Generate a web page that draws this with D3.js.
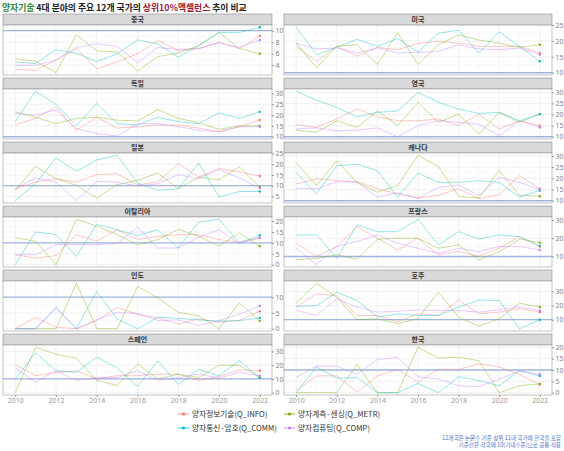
<!DOCTYPE html>
<html>
<head>
<meta charset="utf-8">
<script src="https://cdn.jsdelivr.net/npm/d3@7"></script>
<style>
  body {margin: 0; background: #fff;}
  svg {font-family: "Noto Sans CJK KR", "Noto Sans", sans-serif;}
</style>
</head>
<body>
<svg id="chart" width="564" height="451"></svg>
<script>
/* DATA */
const years = [2010, 2011, 2012, 2013, 2014, 2015, 2016, 2017, 2018, 2019, 2020, 2021, 2022];
const xTicks = [2010, 2012, 2014, 2016, 2018, 2020, 2022];
const countries = ["중국", "미국", "독일", "영국", "일본", "캐나다", "이탈리아", "프랑스", "인도", "호주", "스페인", "한국"];
const seriesNames = ["양자정보기술(Q_INFO)", "양자계측·센싱(Q_METR)", "양자통신·암호(Q_COMM)", "양자컴퓨팅(Q_COMP)"];
const seriesColors = ["#F8766D", "#7CAE00", "#00BFC4", "#C77CFF"];
const baseline = 10; // 기대수준

// one row per country, same order as countries
const qInfo = [
  [3.3, 3.1, 4.9, 6.9, 3.4, 4.6, 6.0, 8.3, 6.6, 6.9, 8.0, 6.9, 9.1],
  [18.3, 13.6, 18.3, 15.2, 18.0, 17.2, 19.3, 19.8, 19.3, 18.3, 18.3, 18.3, 16.2],
  [15.4, 18.5, 23.8, 13.0, 19.0, 14.0, 14.6, 15.4, 15.4, 14.0, 12.3, 14.6, 17.7],
  [15.4, 14.2, 18.0, 22.5, 19.0, 17.2, 17.2, 18.0, 15.0, 20.2, 13.5, 17.2, 15.0],
  [8.6, 11.7, 13.3, 11.7, 15.2, 15.6, 10.5, 11.7, 20.3, 14.0, 18.0, 16.4, 14.5],
  [17.5, 19.7, 19.0, 18.5, 15.3, 13.1, 11.2, 12.4, 15.3, 11.0, 12.6, 21.2, 15.3],
  [4.6, 3.0, 4.2, 13.8, 10.8, 16.0, 11.5, 13.0, 13.8, 13.8, 11.5, 10.3, 12.3],
  [17.3, 10.0, 15.5, 26.4, 20.0, 13.6, 20.0, 11.0, 12.7, 10.0, 14.5, 20.9, 15.5],
  [0, 3.6, 0.5, 0, 2.6, 6.7, 4.6, 3.4, 1.5, 3.1, 2.1, 2.6, 5.5],
  [19.0, 28.4, 27.2, 13.0, 13.0, 8.4, 14.2, 13.0, 24.0, 14.2, 15.4, 17.8, 15.4],
  [20.6, 12.4, 14.7, 16.0, 10.0, 12.4, 12.4, 13.5, 13.5, 9.0, 11.7, 16.6, 16.0],
  [1.0, 7.4, 7.4, 0.3, 7.4, 10.3, 4.6, 10.3, 10.3, 12.7, 11.3, 8.1, 3.6]
];
const qMetr = [
  [5.1, 4.7, 2.7, 9.3, 6.5, 6.3, 3.0, 5.5, 6.1, 7.4, 9.7, 6.9, 6.0],
  [19.3, 11.6, 18.3, 18.8, 12.6, 22.6, 12.6, 18.8, 21.9, 20.3, 19.3, 18.0, 18.8],
  [21.5, 19.0, 16.0, 18.5, 19.0, 17.7, 17.2, 22.6, 18.5, 16.5, 13.4, 15.0, 15.0],
  [13.0, 12.0, 17.2, 14.2, 21.7, 15.0, 25.5, 16.5, 20.2, 11.2, 21.0, 16.5, 20.2],
  [7.8, 19.0, 13.3, 10.2, 4.2, 10.5, 12.5, 16.0, 8.6, 14.0, 12.8, 18.8, 9.4],
  [27.0, 16.8, 27.8, 18.2, 13.8, 16.8, 30.3, 25.3, 12.0, 11.2, 23.4, 12.4, 12.0],
  [12.3, 10.8, 0, 20.8, 17.7, 13.8, 9.2, 11.5, 16.2, 13.0, 8.5, 14.6, 8.5],
  [8.2, 9.0, 11.0, 8.5, 19.5, 20.0, 20.0, 14.5, 16.4, 8.2, 12.7, 19.5, 17.6],
  [0, 0, 0, 14.4, 0, 0, 13.4, 9.8, 5.2, 4.1, 0, 8.2, 2.5],
  [21.8, 35.9, 26.0, 10.0, 10.7, 7.2, 10.7, 29.5, 11.9, 5.3, 10.7, 21.8, 19.0],
  [0, 33.0, 28.0, 25.0, 9.0, 5.3, 21.0, 10.0, 13.5, 11.0, 20.0, 20.0, 11.0],
  [0, 0, 0, 12.4, 0, 0, 20.0, 15.3, 15.6, 14.1, 0, 3.1, 3.9]
];
const qComm = [
  [4.6, 4.3, 6.7, 6.1, 4.6, 6.0, 8.4, 7.7, 5.4, 7.4, 9.7, 9.7, 10.6],
  [24.3, 15.7, 18.0, 20.5, 18.3, 20.8, 16.4, 22.4, 23.4, 16.2, 22.9, 18.3, 13.6],
  [17.0, 31.0, 25.0, 15.0, 25.4, 16.0, 15.4, 19.0, 17.0, 16.0, 21.0, 18.5, 21.5],
  [30.5, 26.5, 23.2, 19.0, 21.0, 21.7, 30.0, 25.5, 22.5, 20.5, 21.0, 17.2, 20.2],
  [3.0, 11.0, 23.0, 16.7, 22.0, 24.2, 11.2, 7.8, 8.6, 20.6, 4.7, 7.3, 7.3],
  [22.6, 13.1, 25.6, 26.3, 23.4, 11.6, 22.4, 18.2, 18.2, 19.0, 18.2, 11.6, 14.6],
  [0, 15.0, 13.8, 3.8, 18.5, 16.0, 13.4, 16.0, 7.7, 19.5, 20.8, 10.0, 13.5],
  [21.8, 21.8, 9.0, 27.3, 23.6, 23.6, 30.4, 16.4, 23.6, 19.5, 21.8, 20.9, 15.8],
  [0, 0, 6.7, 0, 11.8, 3.1, 0, 3.6, 3.3, 2.8, 2.4, 2.6, 3.4],
  [19.4, 20.0, 29.5, 23.6, 11.9, 14.2, 13.0, 13.0, 19.0, 24.0, 23.6, 3.6, 10.0],
  [10.0, 29.0, 16.0, 14.7, 26.0, 18.0, 4.6, 23.0, 6.0, 17.0, 12.4, 23.4, 11.0],
  [0, 11.3, 6.4, 6.7, 0, 0, 4.1, 0, 7.0, 5.3, 3.1, 9.6, 7.4]
];
const qComp = [
  [4.0, 4.0, 4.9, 7.1, 7.7, 7.3, 4.4, 7.1, 6.7, 6.9, 7.9, 7.1, 8.4],
  [19.3, 17.5, 17.8, 16.2, 17.8, 16.2, 16.4, 16.7, 18.8, 17.5, 17.2, 17.8, 15.7],
  [20.8, 20.0, 22.3, 13.8, 11.5, 10.3, 16.0, 16.0, 14.6, 13.0, 12.3, 14.6, 14.6],
  [13.5, 14.0, 12.7, 13.0, 14.0, 10.0, 15.0, 17.2, 16.5, 15.7, 10.5, 17.2, 14.2],
  [8.6, 13.6, 11.7, 3.1, 12.0, 11.7, 9.8, 10.9, 15.2, 13.3, 17.5, 13.6, 8.9],
  [15.6, 15.3, 18.5, 18.2, 11.6, 13.5, 11.0, 16.0, 17.0, 12.4, 20.4, 18.2, 15.0],
  [4.6, 4.6, 9.2, 9.2, 9.2, 9.7, 17.2, 7.7, 7.7, 12.6, 16.0, 9.7, 12.3],
  [14.5, 5.5, 15.5, 18.2, 21.8, 17.3, 14.5, 11.8, 14.5, 12.7, 15.5, 15.5, 13.6],
  [0, 0, 6.7, 0, 2.8, 5.2, 4.8, 2.6, 2.8, 1.0, 2.6, 4.6, 7.2],
  [16.6, 13.0, 24.8, 19.0, 15.4, 16.0, 17.0, 16.6, 16.6, 15.4, 17.0, 19.0, 16.6],
  [18.0, 7.6, 16.0, 9.0, 11.0, 11.0, 16.0, 9.0, 11.0, 13.5, 10.7, 14.7, 12.4],
  [6.7, 11.7, 11.7, 8.1, 14.6, 15.6, 7.0, 6.0, 3.1, 2.7, 6.0, 9.6, 8.1]
];
const yTicks = [
  [4, 6, 8, 10], [10, 15, 20, 25], [10, 15, 20, 25, 30], [10, 15, 20, 25, 30],
  [5, 10, 15, 20, 25], [10, 15, 20, 25, 30], [0, 5, 10, 15, 20], [10, 20, 30],
  [0, 5, 10], [10, 20, 30], [0, 10, 20, 30], [0, 5, 10, 15, 20]
];
const allSeries = [qInfo, qMetr, qComm, qComp];

/* LAYOUT */
const svg = d3.select("#chart");
const cols = [{x0: 3, x1: 272}, {x0: 284, x1: 552}];
const rowTop = 14, rowStep = 64, stripH = 11, panelH = 50;

// title with coloured parts
const title = svg.append("text").attr("x", 2).attr("y", 10.5)
  .attr("font-size", 8.8).attr("font-weight", "bold").attr("fill", "#222");
title.append("tspan").attr("fill", "#2f8a3a").text("양자기술");
title.append("tspan").text(" 4대 분야의 주요 12개 국가의 ");
title.append("tspan").attr("fill", "#a3162e").text("상위10%엑셀런스");
title.append("tspan").text(" 추이 비교");

const line = d3.line();

countries.forEach((country, ci) => {
  const col = cols[ci % 2];
  const row = Math.floor(ci / 2);
  const top = rowTop + row * rowStep;
  const pTop = top + stripH, pBot = pTop + panelH;

  const x = d3.scaleLinear().domain([2009.4, 2022.6]).range([col.x0, col.x1]);

  // free y scale per panel (baseline included, 5% expansion like ggplot)
  const vals = allSeries.flatMap(s => s[ci]).concat([baseline]);
  const [lo, hi] = d3.extent(vals);
  const pad = (hi - lo) * 0.05;
  const y = d3.scaleLinear().domain([lo - pad, hi + pad]).range([pBot, pTop]);

  const g = svg.append("g");

  // strip
  g.append("rect").attr("x", col.x0).attr("y", top).attr("width", col.x1 - col.x0).attr("height", stripH)
    .attr("fill", "#d9d9d9").attr("stroke", "#8c8c8c").attr("stroke-width", 0.6);
  g.append("text").attr("x", (col.x0 + col.x1) / 2).attr("y", top + 8.3)
    .attr("text-anchor", "middle").attr("font-size", 7).attr("font-weight", "bold").attr("fill", "#333")
    .text(country);

  // panel background + grid
  g.append("rect").attr("x", col.x0).attr("y", pTop).attr("width", col.x1 - col.x0).attr("height", panelH)
    .attr("fill", "#fff");
  const ticks = yTicks[ci];
  const step = ticks[1] - ticks[0];
  const minor = d3.range(ticks[0] - step / 2, ticks[ticks.length - 1] + step, step)
    .filter(v => v > y.domain()[0] && v < y.domain()[1]);
  g.selectAll(".ymin").data(minor).join("line")
    .attr("x1", col.x0).attr("x2", col.x1).attr("y1", d => y(d)).attr("y2", d => y(d))
    .attr("stroke", "#f2f2f2").attr("stroke-width", 0.5);
  g.selectAll(".ymaj").data(ticks).join("line")
    .attr("x1", col.x0).attr("x2", col.x1).attr("y1", d => y(d)).attr("y2", d => y(d))
    .attr("stroke", "#ebebeb").attr("stroke-width", 0.7);
  g.selectAll(".xgrid").data(years).join("line")
    .attr("x1", d => x(d)).attr("x2", d => x(d)).attr("y1", pTop).attr("y2", pBot)
    .attr("stroke", d => d % 2 === 0 ? "#ebebeb" : "#f4f4f4").attr("stroke-width", d => d % 2 === 0 ? 0.7 : 0.5);

  // baseline
  g.append("line").attr("x1", col.x0).attr("x2", col.x1).attr("y1", y(baseline)).attr("y2", y(baseline))
    .attr("stroke", "#7d9bd6").attr("stroke-opacity", 0.7).attr("stroke-width", 1.3);

  // series lines
  allSeries.forEach((s, si) => {
    const pts = years.map((yr, i) => [x(yr), y(s[ci][i])]);
    g.append("path").attr("d", line(pts)).attr("fill", "none")
      .attr("stroke", seriesColors[si]).attr("stroke-opacity", 0.45).attr("stroke-width", 0.9);
    const last = pts[pts.length - 1];
    g.append("circle").attr("cx", last[0]).attr("cy", last[1]).attr("r", 1.2)
      .attr("fill", seriesColors[si]);
  });

  // panel border
  g.append("rect").attr("x", col.x0).attr("y", pTop).attr("width", col.x1 - col.x0).attr("height", panelH)
    .attr("fill", "none").attr("stroke", "#9a9a9a").attr("stroke-width", 0.6);

  // y axis on the right
  const yAxis = d3.axisRight(y).tickValues(ticks).tickSize(2).tickPadding(1.5).tickFormat(d3.format("d"));
  const ay = g.append("g").attr("transform", `translate(${col.x1},0)`).call(yAxis);
  ay.select(".domain").remove();
  ay.selectAll("line").attr("stroke", "#999");
  ay.selectAll("text").attr("font-size", 7).attr("fill", "#808080")
    .attr("font-family", "'Noto Sans', sans-serif");

  // x axis only on bottom row
  if (row === 5) {
    const xAxis = d3.axisBottom(x).tickValues(xTicks).tickSize(2).tickPadding(1.5).tickFormat(d3.format("d"));
    const ax = g.append("g").attr("transform", `translate(0,${pBot})`).call(xAxis);
    ax.select(".domain").remove();
    ax.selectAll("line").attr("stroke", "#999");
    ax.selectAll("text").attr("font-size", 7).attr("fill", "#999")
      .attr("font-family", "'Noto Sans', sans-serif");
  }
});

// legend
const legendPos = [[178, 414], [284, 414], [178, 428], [284, 428]];
seriesNames.forEach((name, i) => {
  const [lx, ly] = legendPos[i];
  const lg = svg.append("g").attr("transform", `translate(${lx},${ly})`);
  lg.append("line").attr("x1", 0).attr("x2", 11).attr("y1", 0).attr("y2", 0)
    .attr("stroke", seriesColors[i]).attr("stroke-width", 1.2).attr("stroke-opacity", 0.7);
  lg.append("circle").attr("cx", 5.5).attr("cy", 0).attr("r", 1.6).attr("fill", seriesColors[i]);
  lg.append("text").attr("x", 14).attr("y", 3).attr("font-size", 7.7).attr("fill", "#333").text(name);
});

// caption
const caption = ["12개국은 논문수 기준 상위 11대 국가에 한국을 포함", "기준선은 각국에 10(기대수준)으로 공통 적용"];
svg.selectAll(".cap").data(caption).join("text")
  .attr("x", 561).attr("y", (d, i) => 439.5 + i * 7)
  .attr("text-anchor", "end").attr("font-size", 5.6).attr("fill", "#4a6fcf")
  .text(d => d);
</script>
</body>
</html>
